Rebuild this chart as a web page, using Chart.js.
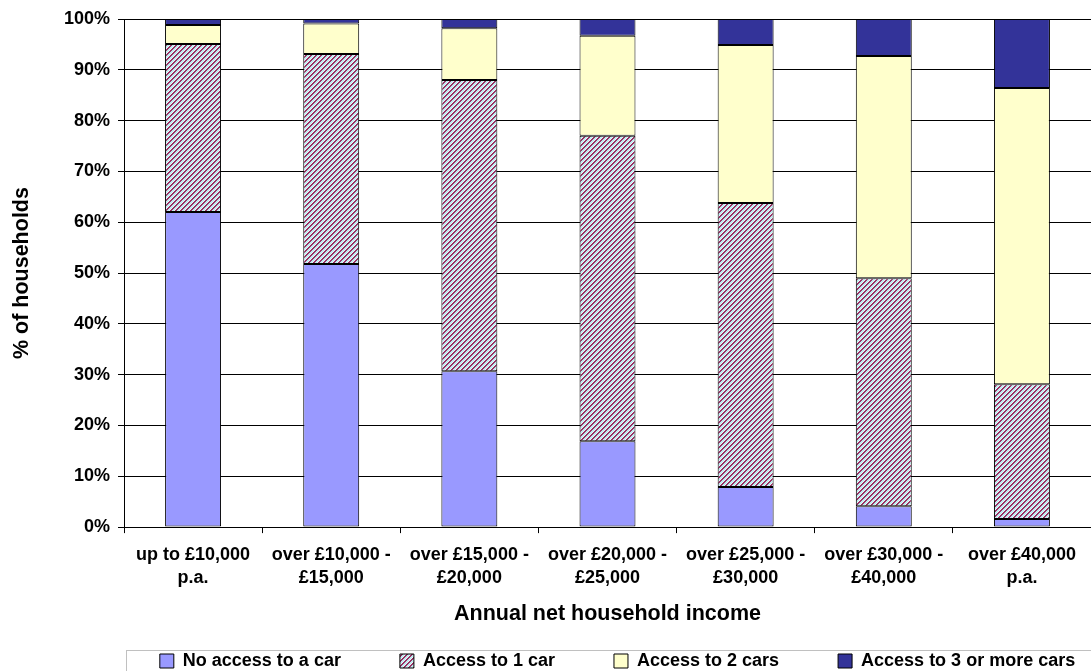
<!DOCTYPE html>
<html>
<head>
<meta charset="utf-8">
<script src="https://cdn.jsdelivr.net/npm/chart.js@4.4.1/dist/chart.umd.min.js"></script>
<style>
  html, body { margin: 0; padding: 0; background: #fff; }
  #wrap { width: 1091px; height: 671px; }
</style>
</head>
<body>
<div id="wrap"><canvas id="chart" width="1091" height="671"></canvas></div>
<script>
// income bands (x axis)
const incomeBands = [
  ['up to £10,000', 'p.a.'],
  ['over £10,000 -', '£15,000'],
  ['over £15,000 -', '£20,000'],
  ['over £20,000 -', '£25,000'],
  ['over £25,000 -', '£30,000'],
  ['over £30,000 -', '£40,000'],
  ['over £40,000', 'p.a.']
];

// % of households in each band
const noCar    = [62.0, 51.8, 30.7, 16.9, 7.9, 4.1, 1.6];
const oneCar   = [33.1, 41.3, 57.3, 60.1, 55.9, 44.9, 26.5];
const twoCars  = [3.7, 6.0, 10.2, 19.7, 31.1, 43.7, 58.3];
const threeCars = [1.2, 0.9, 1.8, 3.3, 5.1, 7.3, 13.6];

const seriesNames = ['No access to a car', 'Access to 1 car', 'Access to 2 cars', 'Access to 3 or more cars'];

// diagonal maroon / light-cyan hatch like the Excel fill
function makeHatch() {
  const size = 5;
  const c = document.createElement('canvas');
  c.width = size; c.height = size;
  const g = c.getContext('2d');
  const img = g.createImageData(size, size);
  for (let y = 0; y < size; y++) {
    for (let x = 0; x < size; x++) {
      const i = (y * size + x) * 4;
      const k = (x + y) % size;
      let col;
      if (k < 2) col = [153, 51, 102];
      else if (k < 4) col = [190, 235, 240];
      else col = [235, 245, 248];
      img.data[i] = col[0]; img.data[i + 1] = col[1]; img.data[i + 2] = col[2]; img.data[i + 3] = 255;
    }
  }
  g.putImageData(img, 0, 0);
  return document.getElementById('chart').getContext('2d').createPattern(c, 'repeat');
}
const hatch = makeHatch();

const FONT = "'Liberation Sans', Arial, sans-serif";

// legend: place it like the Excel one and draw its frame
const legendFrame = {
  id: 'legendFrame',
  afterLayout(chart) {
    const l = chart.legend;
    const dx = 72, newTop = 593;
    l.left += dx; l.right += dx;
    l.top = newTop; l.bottom = chart.height;
  },
  afterDraw(chart) {
    const ctx = chart.ctx;
    ctx.save();
    ctx.strokeStyle = '#c0c0c0';
    ctx.lineWidth = 1;
    ctx.strokeRect(chart.chartArea.left + 2.5, 650.5, chart.width, 40);
    ctx.restore();
  }
};

const common = { borderColor: '#000', borderWidth: 1, borderSkipped: false, barPercentage: 0.405, categoryPercentage: 1 };

new Chart(document.getElementById('chart'), {
  type: 'bar',
  data: {
    labels: incomeBands,
    datasets: [
      { label: seriesNames[0], data: noCar, backgroundColor: '#9999ff', ...common },
      { label: seriesNames[1], data: oneCar, backgroundColor: hatch, ...common },
      { label: seriesNames[2], data: twoCars, backgroundColor: '#ffffcc', ...common },
      { label: seriesNames[3], data: threeCars, backgroundColor: '#333399', ...common }
    ]
  },
  options: {
    responsive: false,
    animation: false,
    layout: { padding: { left: 0, right: 0, top: 19, bottom: 0 } },
    scales: {
      x: {
        stacked: true,
        grid: { display: true, drawOnChartArea: false, offset: true, color: '#000', tickLength: 6 },
        border: { color: '#000' },
        ticks: { color: '#000', font: { family: FONT, size: 18, weight: 'bold', lineHeight: 1.28 }, maxRotation: 0, autoSkip: false, padding: 10 },
        title: { display: true, text: 'Annual net household income', color: '#000', font: { family: FONT, size: 21.5, weight: 'bold' }, padding: { top: 2, bottom: 0 } }
      },
      y: {
        stacked: true,
        min: 0,
        max: 100,
        afterFit(scale) { scale.width = 124; },
        ticks: { stepSize: 10, color: '#000', font: { family: FONT, size: 18, weight: 'bold' }, callback: v => v + '%', padding: 8 },
        grid: { color: '#000', lineWidth: 1, tickLength: 6 },
        border: { color: '#000' },
        title: { display: true, text: '% of households', color: '#000', font: { family: FONT, size: 21.5, weight: 'bold' }, padding: { top: 9, bottom: 0 } }
      }
    },
    plugins: {
      legend: {
        position: 'bottom',
        maxHeight: 44,
        labels: {
          color: '#000',
          font: { family: FONT, size: 18, weight: 'bold' },
          boxWidth: 14,
          boxHeight: 14,
          padding: 59
        }
      },
      tooltip: { enabled: false }
    }
  },
  plugins: [legendFrame]
});
</script>
</body>
</html>
